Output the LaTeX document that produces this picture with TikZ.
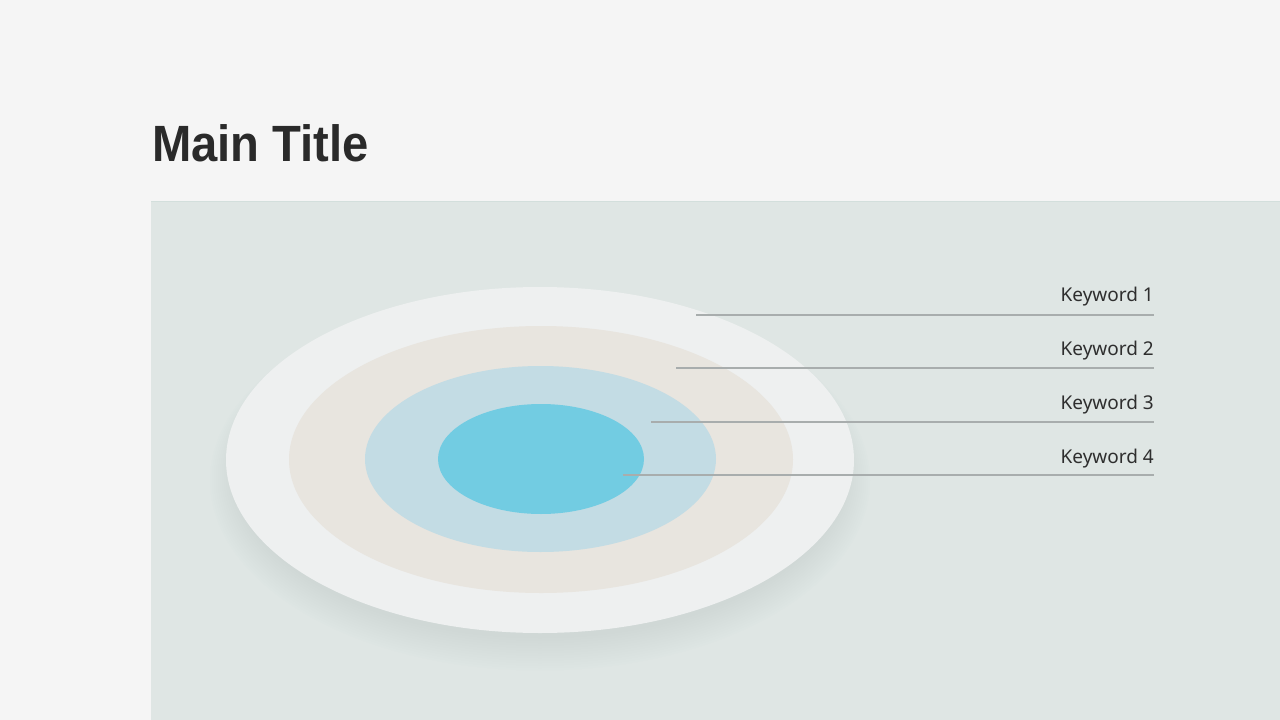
\documentclass[tikz,border=0pt]{standalone}
\usepackage{fontspec}
\setmainfont{Noto Sans}
\newfontfamily\titlefont{Liberation Sans}
\definecolor{pagebg}{HTML}{F5F5F5}
\definecolor{panelbg}{HTML}{DFE6E4}
\definecolor{paneledge}{HTML}{D3DFDC}
\definecolor{ringA}{HTML}{EEF0F0}
\definecolor{ringB}{HTML}{E8E5DF}
\definecolor{ringC}{HTML}{C3DCE4}
\definecolor{ringD}{HTML}{72CCE2}
\definecolor{shadowc}{HTML}{B3CACA}
\definecolor{titlec}{HTML}{2A2A2A}
\definecolor{kwc}{HTML}{2E2E2E}
\definecolor{linec}{HTML}{A8ADAD}
\tikzset{
  kwlabel/.style={anchor=base east, inner sep=0pt, text=kwc, font=\fontsize{19}{23}\selectfont},
  kwline/.style={draw=linec, line width=1.8pt}
}
\begin{document}
\begin{tikzpicture}[x=1pt,y=-1pt]
\useasboundingbox (0,0) rectangle (1280,720);
\fill[pagebg] (0,0) rectangle (1280,720);
% panel
\fill[panelbg] (151,201) rectangle (1280,720);
\draw[paneledge, line width=1pt] (151,201.5) -- (1280,201.5);
% soft shadow under the disc
\foreach \i in {0,...,13}{
  \fill[shadowc, opacity=0.022] (540,{474+0.5*\i}) ellipse ({304+2*\i} and {164+2*\i});
}
% rings
\fill[ringA] (540,460) ellipse (314 and 173);
\fill[ringB] (541,459.5) ellipse (252 and 133.5);
\fill[ringC] (540.5,459) ellipse (175.5 and 93);
\fill[ringD] (541,459) ellipse (103 and 55);
% title
\node[anchor=base west, inner sep=0pt, text=titlec, xscale=0.925, transform shape, font=\fontsize{51}{60}\titlefont\bfseries] (title) at (152,161) {Main Title};
% keywords
\node[kwlabel] (k1) at (1154,301) {Keyword 1};
\node[kwlabel] (k2) at (1154,355) {Keyword 2};
\node[kwlabel] (k3) at (1154,409) {Keyword 3};
\node[kwlabel] (k4) at (1154,463) {Keyword 4};
\coordinate (e1) at (1154,315);
\coordinate (e2) at (1154,368);
\coordinate (e3) at (1154,422);
\coordinate (e4) at (1154,475);
\coordinate (s1) at (696,315);
\coordinate (s2) at (676,368);
\coordinate (s3) at (651,422);
\coordinate (s4) at (623,475);
\draw[kwline] (s1) -- (e1);
\draw[kwline] (s2) -- (e2);
\draw[kwline] (s3) -- (e3);
\draw[kwline] (s4) -- (e4);
\end{tikzpicture}
\end{document}
